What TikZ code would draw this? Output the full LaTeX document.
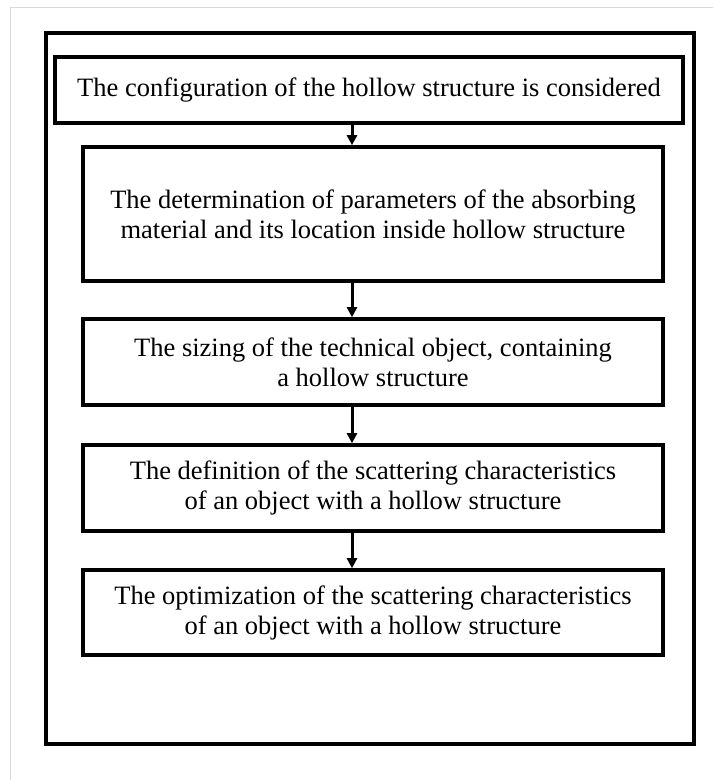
\documentclass[tikz,border=0pt]{standalone}
\usepackage{fontspec}
\setmainfont{Liberation Serif}
\usetikzlibrary{arrows.meta}
\begin{document}
\begin{tikzpicture}[x=1pt,y=-1pt,
  stepbox/.style={draw=black, line width=3.6pt, fill=white, inner sep=0pt,
    align=center, font=\fontsize{26.5}{30}\selectfont},
  flow/.style={line width=3pt, -{Triangle[length=10pt,width=10pt]}}]
\useasboundingbox (0,0) rectangle (713,780);
\fill[white] (0,0) rectangle (713,780);
\draw[gray!30, line width=1pt] (10,780) -- (10,7) -- (713,7);
\node[draw=black, line width=3.6pt, minimum width=648pt, minimum height=711pt, inner sep=0pt] (outer) at (370,388.5) {};
\node[stepbox, minimum width=628pt, minimum height=66pt] (b1) at (369,90)
  {The configuration of the hollow structure is considered};
\node[stepbox, minimum width=580pt, minimum height=134pt] (b2) at (373,214)
  {The determination of parameters of the absorbing\\material and its location inside hollow structure};
\node[stepbox, minimum width=580pt, minimum height=86pt] (b3) at (373,362)
  {The sizing of the technical object, containing\\a hollow structure};
\node[stepbox, minimum width=580pt, minimum height=86pt] (b4) at (373,488)
  {The definition of the scattering characteristics\\of an object with a hollow structure};
\node[stepbox, minimum width=580pt, minimum height=85pt] (b5) at (373,612.5)
  {The optimization of the scattering characteristics\\of an object with a hollow structure};
\coordinate (ax) at (352,0);
\draw[flow] (b1.south -| ax) -- (b2.north -| ax);
\draw[flow] (b2.south -| ax) -- (b3.north -| ax);
\draw[flow] (b3.south -| ax) -- (b4.north -| ax);
\draw[flow] (b4.south -| ax) -- (b5.north -| ax);
\end{tikzpicture}
\end{document}
